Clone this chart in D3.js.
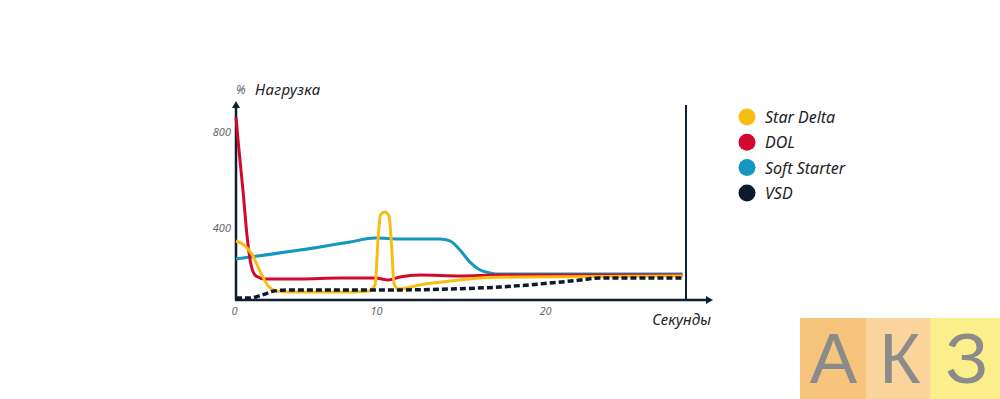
<!DOCTYPE html>
<html>
<head>
<meta charset="utf-8">
<script src="https://cdn.jsdelivr.net/npm/d3@7"></script>
<style>
  body { margin: 0; background: #fff; }
  svg text { font-family: "Noto Sans", "Open Sans", sans-serif; }
</style>
</head>
<body>
<svg id="chart" width="1000" height="399"></svg>
<script>
// seconds / % load
const seriesNames = ['Star Delta', 'DOL', 'Soft Starter', 'VSD'];
const seriesColors = ['#f8bd12', '#d4082f', '#1596bf', '#0c1a2b'];

const starDeltaT = [0, 0.56, 1.13, 1.69, 2.25, 2.82, 3.8, 7.3, 9.4, 9.8, 10.0, 10.15, 10.4, 10.65, 10.8, 10.95, 11.2, 12.49, 14.26, 16.04, 18.4, 27.8];
const starDeltaV = [346, 330, 290, 220, 160, 138, 133, 133, 138, 165, 350, 455, 467, 450, 329, 167, 146, 163, 179, 192, 196, 200];

const dolT = [0, 0.21, 0.49, 0.77, 1.06, 1.41, 2.04, 4.5, 7.3, 9.8, 10.6, 11.3, 12.5, 14.9, 17.2, 27.8];
const dolV = [862, 725, 558, 371, 246, 200, 188, 188, 192, 192, 183, 196, 204, 200, 204, 204];

const softT = [0, 4.5, 8.03, 9.79, 11.3, 13.67, 14.26, 14.85, 15.44, 16.04, 16.63, 17.22, 27.8];
const softV = [271, 308, 342, 358, 354, 354, 346, 308, 258, 225, 213, 208, 208];

const vsdT = [0, 0.99, 1.83, 2.75, 3.8, 11.3, 14.26, 17.2, 19.6, 21.9, 23.05, 27.8];
const vsdV = [108, 108, 121, 138, 142, 142, 146, 154, 167, 183, 192, 192];

const xTicks = [0, 10, 20];
const yTicks = [400, 800];

const svg = d3.select('#chart');
const axisColor = '#0c1f33';

// watermark
const markLetters = ['А', 'К', 'З'];
const markColors = ['#f6c47c', '#fad49b', '#faef8b'];
const markX = d3.scaleBand().domain(d3.range(3)).range([800, 1000]).padding(0);
const mark = svg.append('g');
mark.selectAll('rect').data(markLetters).join('rect')
  .attr('x', (d, i) => markX(i) - (i == 2 ? 3 : 0))
  .attr('y', 318)
  .attr('width', (d, i) => markX.bandwidth() + (i == 2 ? 3 : 0))
  .attr('height', 81)
  .attr('fill', (d, i) => markColors[i]);
mark.selectAll('text').data(markLetters).join('text')
  .attr('x', (d, i) => markX(i) + markX.bandwidth() / 2)
  .attr('y', 383)
  .attr('text-anchor', 'middle')
  .attr('font-size', 71)
  .attr('fill', '#8b8b8b')
  .style('font-family', '"Liberation Sans", sans-serif')
  .text(d => d);

const xScale = d3.scaleLinear()
  .domain([0, 10, 20, 28])
  .range([236, 378, 547, 686]);

const yScale = d3.scaleLinear()
  .domain([400, 800])
  .range([228, 132]);

const baseY = 300;

// axes lines
svg.append('line')
  .attr('x1', 236).attr('x2', 236).attr('y1', baseY).attr('y2', 106)
  .attr('stroke', axisColor).attr('stroke-width', 2.5);
svg.append('path')
  .attr('d', d3.line()([[232, 108], [236, 101], [240, 108]]))
  .attr('fill', axisColor);
svg.append('line')
  .attr('x1', 235).attr('x2', 708).attr('y1', baseY).attr('y2', baseY)
  .attr('stroke', axisColor).attr('stroke-width', 2.5);
svg.append('path')
  .attr('d', d3.line()([[706, 296], [713, 300], [706, 304]]))
  .attr('fill', axisColor);
svg.append('line')
  .attr('x1', xScale(28)).attr('x2', xScale(28)).attr('y1', baseY).attr('y2', 105)
  .attr('stroke', axisColor).attr('stroke-width', 2);

const xAxis = svg.append('g')
  .attr('transform', 'translate(-2,' + baseY + ')')
  .call(d3.axisBottom(xScale).tickValues(xTicks).tickSize(0).tickPadding(7));
const yAxis = svg.append('g')
  .attr('transform', 'translate(236,0)')
  .call(d3.axisLeft(yScale).tickValues(yTicks).tickSize(0).tickPadding(5));

svg.selectAll('.domain').remove();
svg.selectAll('.tick text')
  .attr('fill', '#666')
  .attr('font-size', 11)
  .attr('font-style', 'italic')
  .style('font-family', '"Noto Sans", sans-serif');

// titles
svg.append('text').attr('x', 236).attr('y', 94)
  .attr('font-size', 12).attr('fill', '#666').attr('font-style', 'italic').text('%');
svg.append('text').attr('x', 255).attr('y', 95)
  .attr('font-size', 15).attr('fill', '#222').attr('font-style', 'italic')
  .attr('letter-spacing', 0.3).text('Нагрузка');
svg.append('text').attr('x', 711).attr('y', 325).attr('text-anchor', 'end')
  .attr('font-size', 15).attr('fill', '#222').attr('font-style', 'italic').text('Секунды');

const line = d3.line()
  .x(d => xScale(d[0]))
  .y(d => yScale(d[1]))
  .curve(d3.curveMonotoneX);

const zip = (t, v) => t.map((d, i) => [d, v[i]]);

const series = [
  { name: 'Soft Starter', data: zip(softT, softV), color: seriesColors[2], dash: null },
  { name: 'DOL', data: zip(dolT, dolV), color: seriesColors[1], dash: null },
  { name: 'Star Delta', data: zip(starDeltaT, starDeltaV), color: seriesColors[0], dash: null },
  { name: 'VSD', data: zip(vsdT, vsdV), color: seriesColors[3], dash: '6,3' }
];

series.forEach(s => {
  svg.append('path')
    .datum(s.data)
    .attr('d', line)
    .attr('fill', 'none')
    .attr('stroke', s.color)
    .attr('stroke-width', s.dash ? 3.5 : 3)
    .attr('stroke-dasharray', s.dash)
    .attr('stroke-linejoin', 'round');
});

// legend
const legend = svg.append('g').attr('transform', 'translate(747,117)');
const rows = legend.selectAll('g').data(seriesNames).join('g')
  .attr('transform', (d, i) => 'translate(0,' + i * 25.3 + ')');
rows.append('circle').attr('r', 8.5).attr('fill', (d, i) => seriesColors[i]);
rows.append('text').attr('x', 18).attr('y', 6)
  .attr('font-size', 16).attr('font-style', 'italic').attr('fill', '#222')
  .text(d => d);
</script>
</body>
</html>
